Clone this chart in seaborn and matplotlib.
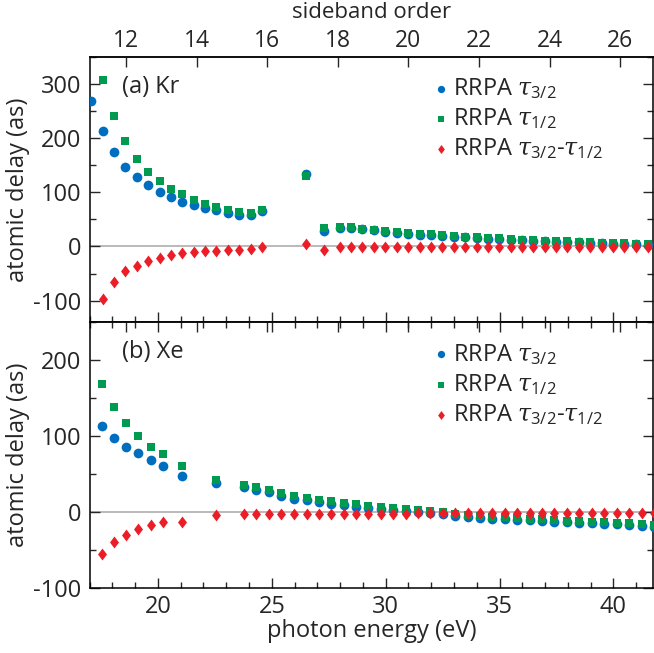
import numpy as np
import pandas as pd
import matplotlib
matplotlib.use('Agg')
import matplotlib.pyplot as plt
from matplotlib.ticker import MultipleLocator
import seaborn as sns

nan = np.nan

# (a) Kr
kr_energy = [17.08, 17.58, 18.08, 18.57, 19.07, 19.57, 20.07, 20.57, 21.07, 21.57,
             22.07, 22.57, 23.07, 23.57, 24.07, 24.57, 26.48, 27.28, 27.99, 28.49,
             28.98, 29.49, 29.99, 30.49, 30.98, 31.49, 31.99, 32.49, 32.98, 33.5,
             33.99, 34.49, 34.99, 35.5, 36.0, 36.48, 36.99, 37.49, 37.98, 38.48,
             38.98, 39.49, 39.99, 40.48, 40.97, 41.51]
kr_tau32 = [268, 212.5, 174.5, 147.4, 127.5, 112.6, 100.2, 91, 82.3, 76,
            70.4, 66.7, 61, 58, 57.4, 66, 133, 28, 34.5, 33.5,
            31.5, 29.5, 26.5, 24.5, 23, 21.5, 20.5, 19.5, 18, 16.5,
            15, 14, 13.5, 12.5, 11.2, 10, 9.3, 8.7, 8.2, 7.5,
            6.3, 5.5, 5, 4.5, 3.7, 3.2]
kr_tau12 = [nan, 308, 240, 194, 162, 138, 121, 106.5, 96, 86.6,
            79, 73, 68, 64, 62, 67.5, 130, 34, 36, 35,
            33, 31, 28, 26, 24.5, 23, 22, 21, 19.5, 18,
            16.5, 15.5, 15, 14, 12.7, 11.5, 10.8, 10.2, 9.7, 9,
            7.8, 7, 6.5, 6, 5.2, 4.7]
kr_diff = [nan, -97, -65, -45.5, -35.7, -26.4, -20.8, -15.8, -12.6, -10.8,
           -8.4, -7.8, -6.5, -5.9, -4.6, -0.4, 4.6, -6.5, -0.5, -0.5,
           -0.5, -0.5, -0.5, -0.5, -0.7, -0.7, -0.7, -0.8, -0.8, -0.8,
           -1, -1, -1, -1, -1, -1, -1.2, -1.2, -1.2, -1.2,
           -1.3, -1.3, -1.3, -1.3, -1.4, -1.4]

# (b) Xe
xe_energy = [17.53, 18.05, 18.6, 19.14, 19.68, 20.24, 21.06, 22.56, 23.78, 24.32,
             24.88, 25.42, 25.97, 26.53, 27.06, 27.6, 28.15, 28.7, 29.24, 29.78,
             30.32, 30.88, 31.42, 31.96, 32.5, 33.06, 33.6, 34.14, 34.68, 35.22,
             35.76, 36.32, 36.86, 37.4, 37.96, 38.5, 39.04, 39.6, 40.14, 40.68,
             41.23, 41.77]
xe_tau32 = [113, 98, 86, 77, 68, 61, 47, 37.5, 33, 28.7,
            25.6, 21.5, 17.5, 15, 13, 11, 9, 7, 5.2, 3.5,
            2.2, 0.8, -0.6, -1.9, -3.2, -5.1, -6.8, -8.1, -9, -9.8,
            -10.5, -11.3, -12, -12.8, -13.6, -14.4, -15.2, -15.9, -16.6, -17.3,
            -18.3, -19.6]
xe_tau12 = [169, 138, 117, 100, 86, 76, 60, 42, 36, 33,
            29, 24.5, 20.5, 18, 16, 14, 12, 10, 8, 6.3,
            5, 3.6, 2.2, 0.9, -0.4, -2.4, -4.2, -5.6, -6.6, -7.4,
            -8.2, -9, -9.8, -10.6, -11.4, -12.3, -13.1, -13.8, -14.6, -15.3,
            -16.3, -17.6]
xe_diff = [-55.5, -40, -30, -23, -17, -13.6, -13.6, -3.5, -2.6, -2.6,
           -2.6, -2.6, -2.6, -2.5, -2.5, -2.5, -2.5, -2.4, -2.4, -2.3,
           -2.2, -2.2, -2.1, -2.0, -1.9, -1.8, -1.8, -1.7, -1.6, -1.5,
           -1.5, -1.4, -1.4, -1.3, -1.3, -1.2, -1.2, -1.1, -1.1, -1.0,
           -1.0, -1.0]

omega = 1.55  # eV per sideband order
sideband_ticks = [12, 14, 16, 18, 20, 22, 24, 26]

sns.set_style('ticks')
plt.rcParams['font.family'] = ['Open Sans', 'DejaVu Sans']
plt.rcParams['mathtext.fontset'] = 'custom'
plt.rcParams['mathtext.rm'] = 'Open Sans'
plt.rcParams['mathtext.it'] = 'DejaVu Serif:italic'
plt.rcParams['axes.unicode_minus'] = False
plt.rcParams['font.size'] = 17

blue, green, red = '#006ebe', '#009b50', '#eb1e28'
diamond = [(0, 1), (0.75, 0), (0, -1), (-0.75, 0)]

fig, (ax1, ax2) = plt.subplots(2, 1, figsize=(6.54, 6.53), dpi=100, sharex=True)
fig.subplots_adjust(left=0.137, right=0.999, top=0.913, bottom=0.100, hspace=0)


def panel(ax, energy, t32, t12, diff, tag, ylim, ymaj):
    df = pd.DataFrame({'energy': energy, 't32': t32, 't12': t12, 'diff': diff})
    ax.axhline(0, color='#b4b4b4', lw=1.3, zorder=0)
    sns.scatterplot(data=df, x='energy', y='t32', ax=ax, color=blue, marker='o',
                    s=49, linewidth=0, label=r'RRPA $\tau_{3/2}$', zorder=3)
    sns.scatterplot(data=df, x='energy', y='t12', ax=ax, color=green, marker='s',
                    s=33, linewidth=0, label=r'RRPA $\tau_{1/2}$', zorder=4)
    sns.scatterplot(data=df, x='energy', y='diff', ax=ax, color=red, marker=diamond,
                    s=74, linewidth=0, label=r'RRPA $\tau_{3/2}$-$\tau_{1/2}$', zorder=5)
    ax.set_ylim(*ylim)
    ax.yaxis.set_major_locator(MultipleLocator(ymaj))
    ax.yaxis.set_minor_locator(MultipleLocator(ymaj / 2))
    ax.set_ylabel('atomic delay (as)', labelpad=2)
    ax.set_xlabel('')
    ax.text(0.057, 0.888, tag, transform=ax.transAxes, va='center', ha='left')
    ax.legend(loc='upper left', bbox_to_anchor=(0.59, 0.962), frameon=False,
              handletextpad=0.1, handlelength=0.8, labelspacing=0.22,
              markerscale=0.75, borderaxespad=0)
    for s in ax.spines.values():
        s.set_visible(True)
        s.set_linewidth(1.1)
        s.set_color('black')
    ax.tick_params(axis='y', which='both', direction='in', left=True, right=True,
                   pad=6, labelsize=17)
    ax.tick_params(axis='y', which='major', length=7, width=1)
    ax.tick_params(axis='y', which='minor', length=4, width=1)
    # sideband order axis on top
    sec = ax.secondary_xaxis('top', functions=(lambda e: e / omega, lambda n: n * omega))
    sec.set_xticks(sideband_ticks)
    sec.tick_params(direction='in', length=7, width=1, pad=3, labelsize=16.5)
    sec.spines['top'].set_linewidth(1.1)
    return sec


sec1 = panel(ax1, kr_energy, kr_tau32, kr_tau12, kr_diff, '(a) Kr', (-140, 350), 100)
sec2 = panel(ax2, xe_energy, xe_tau32, xe_tau12, xe_diff, '(b) Xe', (-100, 250), 100)

sec2.tick_params(labeltop=False)
fig.text(0.5 * (0.137 + 0.999), 1 - 13 / 653, 'sideband order', ha='center',
         va='center', fontsize=16)

ax2.set_xlim(17, 41.75)
for ax in (ax1, ax2):
    ax.xaxis.set_major_locator(MultipleLocator(5))
    ax.xaxis.set_minor_locator(MultipleLocator(1))
    ax.tick_params(axis='x', which='both', direction='in', bottom=True, top=False,
                   pad=5, labelsize=17)
    ax.tick_params(axis='x', which='major', length=7, width=1)
    ax.tick_params(axis='x', which='minor', length=4, width=1)
ax2.tick_params(axis='x', which='both', top=True)
ax1.tick_params(axis='x', labelbottom=False)
ax2.set_xlabel('photon energy (eV)', labelpad=0)

fig.savefig('out.png', dpi=100)
